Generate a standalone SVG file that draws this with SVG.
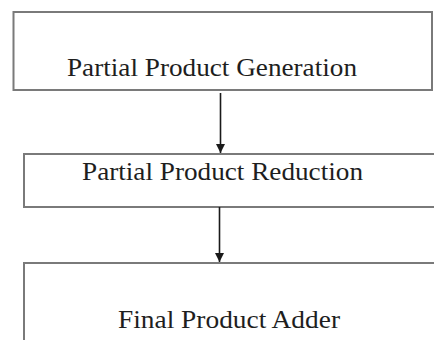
<svg xmlns="http://www.w3.org/2000/svg" width="434" height="340" viewBox="0 0 434 340">
<style>
.box{fill:#fff;stroke:#7a7a7a;stroke-width:2}
.lbl{font-family:"Liberation Serif","Times New Roman",serif;font-size:25px;fill:#1e1e1e}
.conn{stroke:#1a1a1a;stroke-width:1.6;fill:none}
</style>
<defs>
<marker id="ah" viewBox="0 0 10 10" refX="10" refY="5" markerWidth="10" markerHeight="9" markerUnits="userSpaceOnUse" orient="auto">
<path d="M0,0 L10,5 L0,10 z" fill="#1a1a1a"/>
</marker>
</defs>
<rect width="434" height="340" fill="#fff"/>
<g id="node-generation">
<rect class="box" x="13.5" y="12" width="418.5" height="78"/>
<text class="lbl" x="67" y="76" textLength="290" lengthAdjust="spacingAndGlyphs">Partial Product Generation</text>
</g>
<g id="node-reduction">
<rect class="box" x="24" y="154" width="420" height="53"/>
<text class="lbl" x="82" y="180" textLength="281" lengthAdjust="spacingAndGlyphs">Partial Product Reduction</text>
</g>
<g id="node-adder">
<rect class="box" x="24" y="263" width="420" height="90"/>
<text class="lbl" x="118" y="328" textLength="222" lengthAdjust="spacingAndGlyphs">Final Product Adder</text>
</g>
<g id="connectors">
<line class="conn" x1="220.5" y1="93" x2="220.5" y2="153" marker-end="url(#ah)"/>
<line class="conn" x1="219.5" y1="207" x2="219.5" y2="262" marker-end="url(#ah)"/>
</g>
</svg>
